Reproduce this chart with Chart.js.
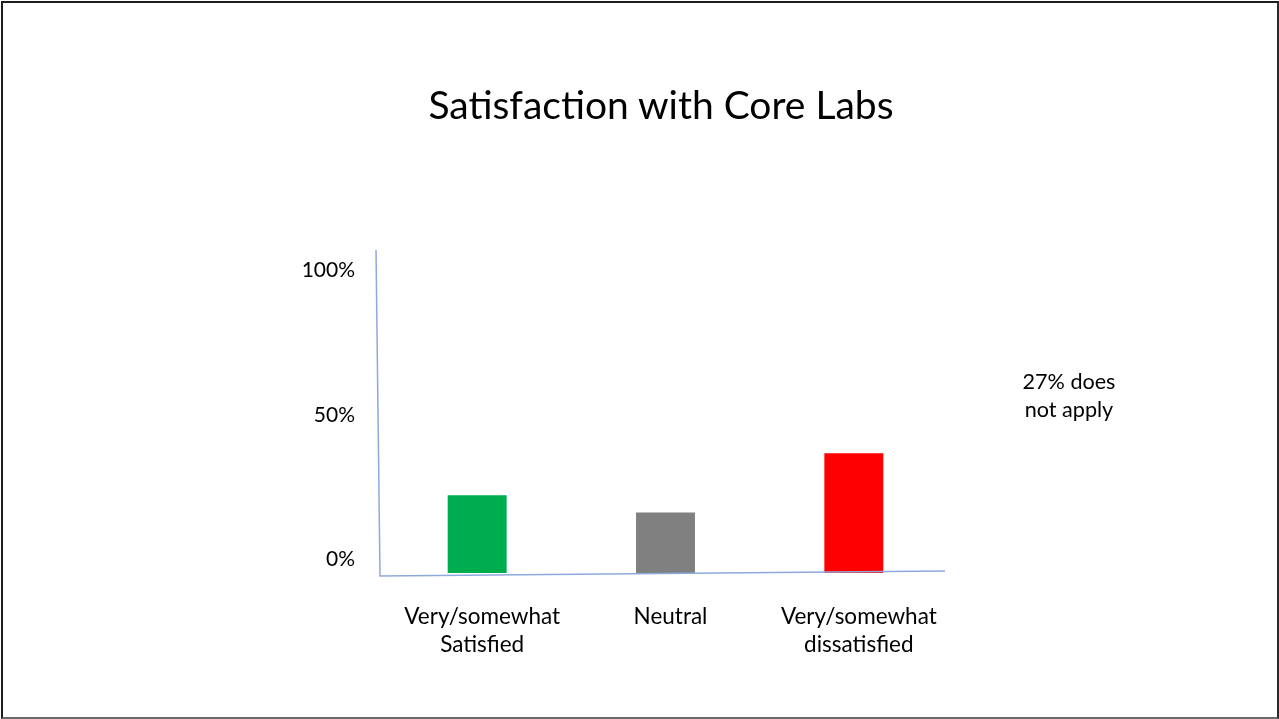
<!DOCTYPE html>
<html>
<head>
<meta charset="utf-8">
<script src="https://cdn.jsdelivr.net/npm/chart.js@4"></script>
<style>
  html, body { margin: 0; padding: 0; background: #fff; }
  body { width: 1279px; height: 719px; position: relative; overflow: hidden; }
  #frame { position: absolute; left: 1px; top: 1px; width: 1274px; height: 714px;
           border: 2px solid #1e1e1e; border-bottom-color: #6a6a6a; border-right-color: #2a2a2a; }
  #wrap { position: absolute; left: 0; top: 0; width: 1279px; height: 719px; }
  .txt { position: absolute; font-family: Lato, "Open Sans", sans-serif; color: #000; text-align: center; }
  #title { left: 361px; width: 600px; top: 79px; font-size: 39px; line-height: 50px; }
  #note { left: 999px; width: 140px; top: 367px; font-size: 21.6px; line-height: 28px; }
</style>
</head>
<body>
<div id="frame"></div>
<div id="wrap"><canvas id="c" width="1279" height="719"></canvas></div>
<div id="title" class="txt">Satisfaction with Core Labs</div>
<div id="note" class="txt">27% does<br>not apply</div>
<script>
const categories = [["Very/somewhat", "Satisfied"], ["Neutral"], ["Very/somewhat", "dissatisfied"]];
const values = [27, 21, 41.5];
const barColors = ["#00AD4E", "#808080", "#FF0000"];
const tickValues = [0, 50, 100];

const axisLines = {
  id: 'axisLines',
  afterDatasetsDraw(chart) {
    const { ctx, chartArea } = chart;
    const y = chart.scales.y;
    const base = y.getPixelForValue(0);
    ctx.save();
    ctx.strokeStyle = '#8EA9DB';
    ctx.lineWidth = 1.5;
    ctx.beginPath();
    ctx.moveTo(chartArea.left - 7, chartArea.top);
    ctx.lineTo(chartArea.left - 3, base + 3);
    ctx.lineTo(chartArea.right - 3, base - 2);
    ctx.stroke();
    ctx.restore();
  }
};

new Chart(document.getElementById('c'), {
  type: 'bar',
  data: {
    labels: categories,
    datasets: [{
      data: values,
      backgroundColor: barColors,
      borderWidth: 0,
      categoryPercentage: 1.0,
      barPercentage: 0.313
    }]
  },
  options: {
    responsive: false,
    animation: false,
    devicePixelRatio: 1,
    layout: { padding: { left: 283, right: 331, top: 250, bottom: 46 } },
    plugins: { legend: { display: false }, tooltip: { enabled: false }, title: { display: false } },
    scales: {
      x: {
        grid: { display: false, drawTicks: false },
        border: { display: false },
        afterFit(s) { s.height = 100; },
        ticks: {
          color: '#000',
          font: { family: 'Lato', size: 22.5, lineHeight: 1.25 },
          padding: 30,
          labelOffset: 5,
          maxRotation: 0,
          autoSkip: false
        }
      },
      y: {
        min: 0,
        max: 112,
        afterFit(s) { s.width = 100; },
        afterBuildTicks(s) { s.ticks = tickValues.map(v => ({ value: v })); },
        grid: { display: false, drawTicks: false },
        border: { display: false },
        ticks: {
          color: '#000',
          font: { family: 'Lato', size: 21 },
          padding: 28,
          labelOffset: -14,
          callback: v => v + '%'
        }
      }
    }
  },
  plugins: [axisLines]
});
</script>
</body>
</html>
